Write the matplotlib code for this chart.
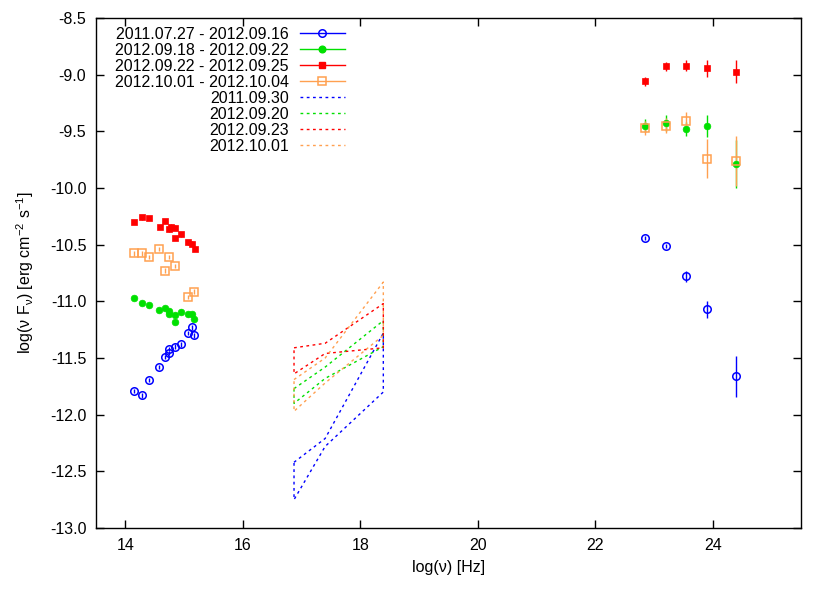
import numpy as np
import matplotlib
matplotlib.use('Agg')
import matplotlib.pyplot as plt
from matplotlib.lines import Line2D

plt.rcParams['font.family'] = ['Liberation Sans', 'DejaVu Sans']
plt.rcParams['font.size'] = 11.5
plt.rcParams['axes.unicode_minus'] = False

# optical / IR points
opt_x_blue = [14.15, 14.28, 14.40, 14.58, 14.68, 14.75, 14.75, 14.85, 14.95, 15.07, 15.13, 15.17]
opt_y_blue = [-11.79, -11.83, -11.695, -11.58, -11.49, -11.455, -11.42, -11.40, -11.38, -11.28, -11.23, -11.30]
opt_x_green = [14.15, 14.28, 14.40, 14.58, 14.68, 14.75, 14.75, 14.85, 14.85, 14.95, 15.06, 15.13, 15.17]
opt_y_green = [-10.97, -11.015, -11.035, -11.077, -11.057, -11.086, -11.11, -11.12, -11.18, -11.09, -11.115, -11.11, -11.16]
opt_x_red = [14.15, 14.28, 14.40, 14.59, 14.68, 14.75, 14.78, 14.85, 14.85, 14.95, 15.07, 15.13, 15.18]
opt_y_red = [-10.30, -10.26, -10.265, -10.345, -10.29, -10.365, -10.34, -10.35, -10.44, -10.41, -10.48, -10.49, -10.54]
opt_x_orange = [14.15, 14.28, 14.40, 14.58, 14.68, 14.75, 14.85, 15.06, 15.17]
opt_y_orange = [-10.577, -10.577, -10.61, -10.54, -10.73, -10.61, -10.69, -10.96, -10.915]
opt_err = 0.02

# gamma-ray points
gam_x = [22.84, 23.20, 23.55, 23.90, 24.39]
gam_y_blue = [-10.44, -10.51, -10.78, -11.07, -11.66]
gam_e_blue = [0.02, 0.02, 0.045, 0.075, 0.18]
gam_y_green = [-9.45, -9.43, -9.48, -9.455, -9.79]
gam_e_green = [0.057, 0.07, 0.06, 0.095, 0.21]
gam_y_red = [-9.056, -8.926, -8.921, -8.944, -8.974]
gam_e_red = [0.04, 0.04, 0.05, 0.077, 0.10]
gam_y_orange = [-9.47, -9.45, -9.41, -9.74, -9.76]
gam_e_orange = [0.06, 0.065, 0.08, 0.17, 0.22]

# X-ray bowties (upper / lower edges)
xr_x = [16.87, 17.4, 18.39]
xr_blue_up = [-12.42, -12.21, -11.28]
xr_blue_lo = [-12.75, -12.28, -11.80]
xr_green_up = [-11.77, -11.58, -11.17]
xr_green_lo = [-11.90, -11.68, -11.40]
xr_red_up = [-11.41, -11.37, -11.02]
xr_red_lo = [-11.64, -11.46, -11.41]
xr_orange_up = [-11.69, -11.50, -10.83]
xr_orange_lo = [-11.97, -11.72, -11.30]

c_blue = '#0000ff'
c_green = '#00e000'
c_red = '#ff0000'
c_orange = '#ffa050'

fig = plt.figure(figsize=(8.3, 5.93), dpi=100)
ax = fig.add_axes([0.1157, 0.1096, 0.8494, 0.86])

def pts(x, y, e, c, m, fill):
    if fill:
        ax.errorbar(x, y, yerr=e, fmt=m, color=c, mfc=c, mec=c, ms=4.8,
                    mew=0.5, elinewidth=1, capsize=0)
    else:
        ax.errorbar(x, y, yerr=e, fmt=m, color=c, mfc='none', mec=c, ms=5.4,
                    mew=1.1, elinewidth=1, capsize=0)

pts(opt_x_blue, opt_y_blue, opt_err, c_blue, 'o', False)
pts(gam_x, gam_y_blue, gam_e_blue, c_blue, 'o', False)
pts(opt_x_green, opt_y_green, opt_err, c_green, 'o', True)
pts(gam_x, gam_y_green, gam_e_green, c_green, 'o', True)
pts(opt_x_red, opt_y_red, opt_err, c_red, 's', True)
pts(gam_x, gam_y_red, gam_e_red, c_red, 's', True)
pts(opt_x_orange, opt_y_orange, opt_err, c_orange, 's', False)
pts(gam_x, gam_y_orange, gam_e_orange, c_orange, 's', False)

dots = (0, (2, 2.5))
for up, lo, c in [(xr_blue_up, xr_blue_lo, c_blue), (xr_green_up, xr_green_lo, c_green),
                  (xr_red_up, xr_red_lo, c_red), (xr_orange_up, xr_orange_lo, c_orange)]:
    bx = xr_x + xr_x[::-1] + [xr_x[0]]
    by = up + lo[::-1] + [up[0]]
    ax.plot(bx, by, ls=dots, color=c, lw=1)

ax.set_xlim(13.5, 25.5)
ax.set_ylim(-13.0, -8.5)
ax.set_xticks(np.arange(14, 25, 2))
ax.set_yticks(np.arange(-13.0, -8.49, 0.5))
ax.yaxis.set_major_formatter(matplotlib.ticker.FormatStrFormatter('%.1f'))
ax.tick_params(direction='in', top=True, right=True, length=6, width=1, pad=7)
for s in ax.spines.values():
    s.set_linewidth(1)

ax.set_xlabel('log(ν) [Hz]', labelpad=5)
ax.set_ylabel('log(ν F$_{\\mathregular{ν}}$) [erg cm$^{\\mathregular{-2}}$ s$^{\\mathregular{-1}}$]', labelpad=10)

labels = ['2011.07.27 - 2012.09.16', '2012.09.18 - 2012.09.22', '2012.09.22 - 2012.09.25',
          '2012.10.01 - 2012.10.04', '2011.09.30', '2012.09.20', '2012.09.23', '2012.10.01']
handles = [
    Line2D([], [], color=c_blue, marker='o', mfc='none', ms=5.4, mew=1.1, lw=1),
    Line2D([], [], color=c_green, marker='o', ms=4.8, lw=1),
    Line2D([], [], color=c_red, marker='s', ms=4.8, lw=1),
    Line2D([], [], color=c_orange, marker='s', mfc='none', ms=5.4, mew=1.1, lw=1),
    Line2D([], [], color=c_blue, ls=dots, lw=1),
    Line2D([], [], color=c_green, ls=dots, lw=1),
    Line2D([], [], color=c_red, ls=dots, lw=1),
    Line2D([], [], color=c_orange, ls=dots, lw=1),
]
ax.legend(handles, labels, loc='upper left', bbox_to_anchor=(0.014, 1.0), frameon=False,
          markerfirst=False, handlelength=2.8, handletextpad=0.7, labelspacing=0.06,
          fontsize=11.5, borderaxespad=0.15)

plt.savefig('out.png', dpi=100)
